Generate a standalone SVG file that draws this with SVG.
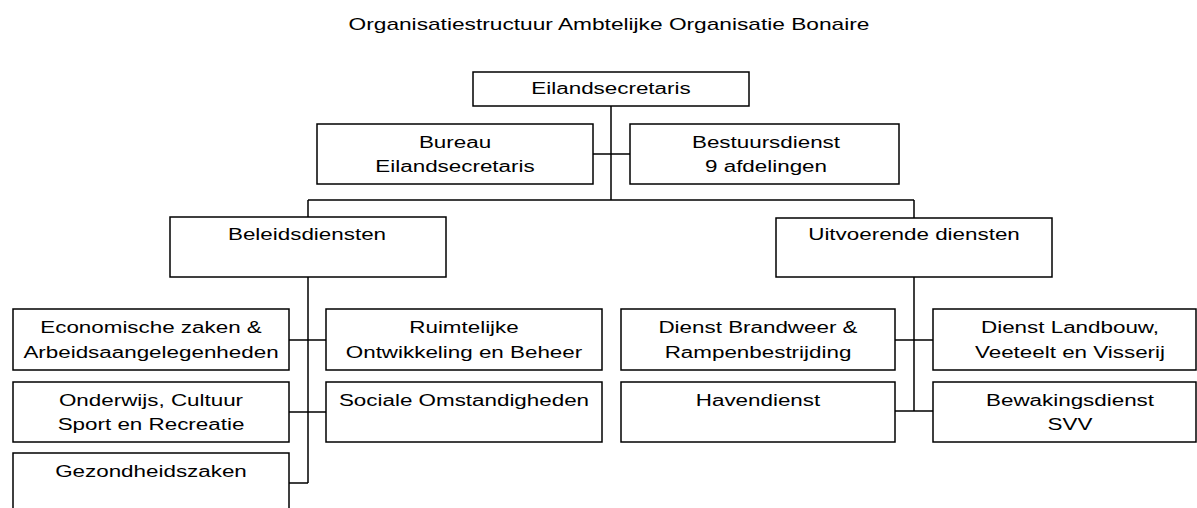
<svg xmlns="http://www.w3.org/2000/svg" width="1197" height="508" viewBox="0 0 1197 508">
<style>
rect.b{fill:#fff;stroke:#000;stroke-width:1.5}
.t{font-family:"Liberation Sans",Arial,sans-serif;font-size:16px;text-anchor:middle;fill:#000}
#connectors path{fill:none;stroke:#000;stroke-width:1.5}
</style>
<rect width="1197" height="508" fill="#fff"/>
<text class="t" transform="translate(609,30) scale(1.42,1)">Organisatiestructuur Ambtelijke Organisatie Bonaire</text>
<g id="connectors">
<path d="M611,106V200M593,154H630M308,200H914M308,200V217M914,200V218"/>
<path d="M308,277V483M289,340H326M289,412H326M289,483H308"/>
<path d="M914,277V411M895,340H933M895,411H933"/>
</g>
<g id="eilandsecretaris"><rect class="b" x="473" y="72" width="276" height="34"/><text class="t" transform="translate(611,94) scale(1.4,1)">Eilandsecretaris</text></g>
<g id="bureau"><rect class="b" x="317" y="124" width="276" height="60"/><text class="t" transform="translate(455,148) scale(1.4,1)">Bureau</text><text class="t" transform="translate(455,172) scale(1.4,1)">Eilandsecretaris</text></g>
<g id="bestuursdienst"><rect class="b" x="630" y="124" width="269" height="60"/><text class="t" transform="translate(766,148) scale(1.4,1)">Bestuursdienst</text><text class="t" transform="translate(766,172) scale(1.4,1)">9 afdelingen</text></g>
<g id="beleidsdiensten"><rect class="b" x="170" y="217" width="276" height="60"/><text class="t" transform="translate(307,240) scale(1.4,1)">Beleidsdiensten</text></g>
<g id="uitvoerende"><rect class="b" x="776" y="218" width="276" height="59"/><text class="t" transform="translate(914,240) scale(1.4,1)">Uitvoerende diensten</text></g>
<g id="economische"><rect class="b" x="13" y="309" width="276" height="61"/><text class="t" transform="translate(151,333) scale(1.4,1)">Economische zaken &amp;</text><text class="t" transform="translate(151,358) scale(1.4,1)">Arbeidsaangelegenheden</text></g>
<g id="onderwijs"><rect class="b" x="13" y="382" width="276" height="60"/><text class="t" transform="translate(151,406) scale(1.4,1)">Onderwijs, Cultuur</text><text class="t" transform="translate(151,430) scale(1.4,1)">Sport en Recreatie</text></g>
<g id="gezondheid"><rect class="b" x="13" y="453" width="276" height="65"/><text class="t" transform="translate(151,477) scale(1.4,1)">Gezondheidszaken</text></g>
<g id="ruimtelijke"><rect class="b" x="326" y="309" width="276" height="61"/><text class="t" transform="translate(464,333) scale(1.4,1)">Ruimtelijke</text><text class="t" transform="translate(464,358) scale(1.4,1)">Ontwikkeling en Beheer</text></g>
<g id="sociale"><rect class="b" x="326" y="382" width="276" height="60"/><text class="t" transform="translate(464,406) scale(1.4,1)">Sociale Omstandigheden</text></g>
<g id="brandweer"><rect class="b" x="621" y="309" width="274" height="61"/><text class="t" transform="translate(758,333) scale(1.4,1)">Dienst Brandweer &amp;</text><text class="t" transform="translate(758,358) scale(1.4,1)">Rampenbestrijding</text></g>
<g id="havendienst"><rect class="b" x="621" y="382" width="274" height="60"/><text class="t" transform="translate(758,406) scale(1.4,1)">Havendienst</text></g>
<g id="landbouw"><rect class="b" x="933" y="309" width="263" height="61"/><text class="t" transform="translate(1070,333) scale(1.4,1)">Dienst Landbouw,</text><text class="t" transform="translate(1070,358) scale(1.4,1)">Veeteelt en Visserij</text></g>
<g id="bewaking"><rect class="b" x="933" y="382" width="263" height="60"/><text class="t" transform="translate(1070,406) scale(1.4,1)">Bewakingsdienst</text><text class="t" transform="translate(1070,430) scale(1.4,1)">SVV</text></g>
</svg>
